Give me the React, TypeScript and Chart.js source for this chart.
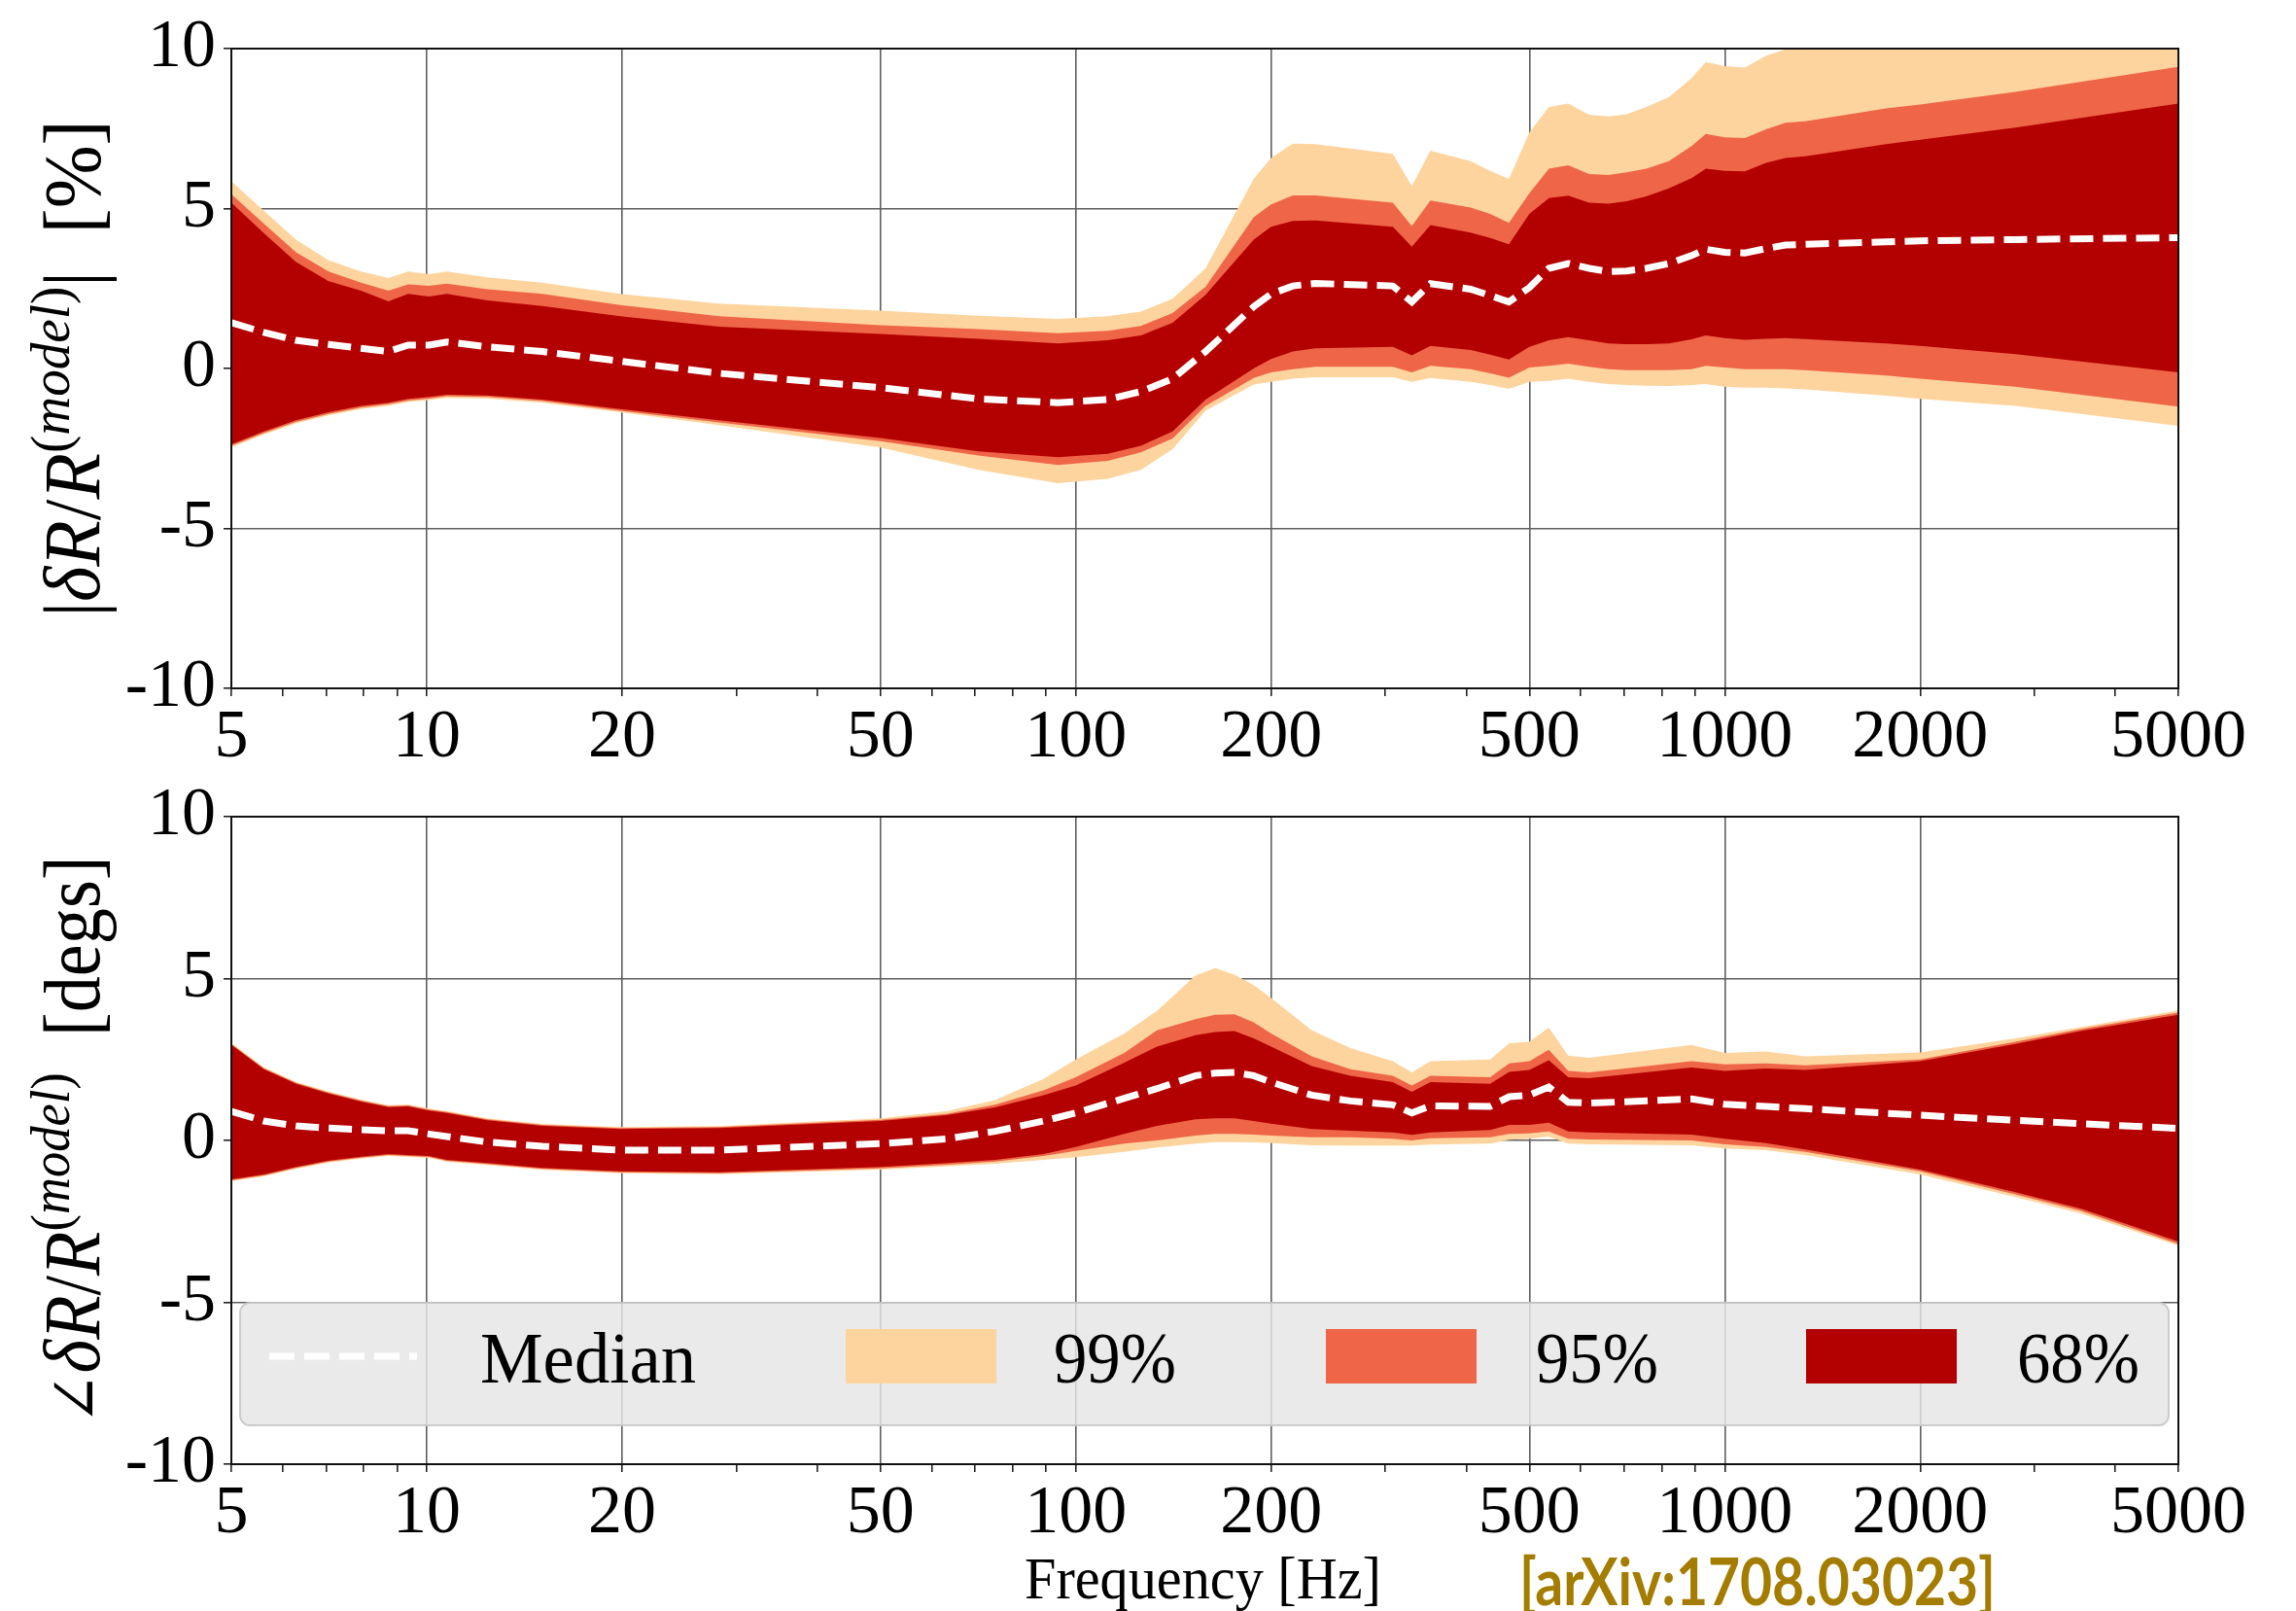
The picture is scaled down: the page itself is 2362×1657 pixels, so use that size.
import React, { useEffect, useRef } from 'react';
import { Chart, registerables } from 'chart.js';

Chart.register(...registerables);

// ---------------- data: magnitude panel ----------------
const magFreq = [5, 5.61, 6.29, 7.06, 7.92, 8.73, 9.36, 10.08, 10.74, 12.4, 15.07, 19.86, 28.2, 50, 70.8, 93.9, 112, 126, 141, 158.5, 188, 200, 216, 234, 308, 329.5, 352, 406, 435, 465, 500, 536, 574, 618, 662, 706, 757, 820, 889, 935, 1000, 1074, 1158, 1241, 1330, 1773, 2000, 2805, 5000];
const mag99Up = [5.85, 4.93, 4.03, 3.38, 3.03, 2.83, 3.03, 2.95, 3.03, 2.85, 2.68, 2.33, 2.03, 1.81, 1.65, 1.55, 1.63, 1.78, 2.18, 3.13, 5.93, 6.58, 7.03, 7.01, 6.71, 5.71, 6.81, 6.48, 6.18, 5.93, 7.38, 8.18, 8.28, 7.93, 7.88, 7.95, 8.18, 8.48, 9.08, 9.58, 9.45, 9.41, 9.78, 9.98, 10.3, 10.9, 11.1, 11.6, 12.5];
const mag95Up = [5.45, 4.53, 3.63, 3.03, 2.68, 2.43, 2.63, 2.58, 2.65, 2.48, 2.33, 1.98, 1.63, 1.35, 1.23, 1.10, 1.18, 1.33, 1.73, 2.55, 4.73, 5.13, 5.41, 5.41, 5.18, 4.45, 5.25, 5.03, 4.83, 4.55, 5.48, 6.25, 6.35, 6.08, 6.05, 6.13, 6.25, 6.48, 6.95, 7.33, 7.23, 7.20, 7.48, 7.68, 7.73, 8.13, 8.25, 8.65, 9.43];
const mag68Up = [5.18, 4.23, 3.33, 2.73, 2.43, 2.10, 2.33, 2.25, 2.33, 2.13, 1.95, 1.63, 1.31, 1.08, 0.93, 0.78, 0.88, 1.03, 1.43, 2.30, 4.03, 4.43, 4.61, 4.63, 4.43, 3.81, 4.48, 4.25, 4.08, 3.88, 4.83, 5.33, 5.40, 5.18, 5.15, 5.23, 5.38, 5.63, 5.95, 6.25, 6.18, 6.16, 6.43, 6.58, 6.63, 7.01, 7.15, 7.53, 8.28];
const magMedian = [1.43, 1.13, 0.88, 0.75, 0.63, 0.53, 0.73, 0.73, 0.83, 0.68, 0.53, 0.23, -0.15, -0.60, -0.95, -1.07, -0.97, -0.72, -0.32, 0.53, 1.93, 2.33, 2.58, 2.66, 2.58, 2.08, 2.65, 2.48, 2.28, 2.08, 2.53, 3.13, 3.28, 3.13, 3.03, 3.05, 3.13, 3.28, 3.53, 3.73, 3.63, 3.61, 3.75, 3.86, 3.88, 3.96, 3.99, 4.03, 4.09];
const mag68Lo = [-2.37, -1.97, -1.62, -1.37, -1.17, -1.07, -0.95, -0.89, -0.82, -0.84, -0.97, -1.27, -1.62, -2.17, -2.59, -2.77, -2.67, -2.42, -1.97, -0.97, 0.0, 0.30, 0.53, 0.63, 0.68, 0.41, 0.71, 0.58, 0.43, 0.28, 0.68, 0.88, 0.98, 0.88, 0.78, 0.76, 0.76, 0.78, 0.91, 1.03, 0.95, 0.90, 0.93, 0.95, 0.92, 0.78, 0.71, 0.45, -0.12];
const mag95Lo = [-2.42, -2.02, -1.67, -1.42, -1.22, -1.12, -1.00, -0.94, -0.87, -0.89, -1.02, -1.32, -1.69, -2.27, -2.72, -3.02, -2.89, -2.62, -2.19, -1.17, -0.30, -0.12, -0.02, 0.05, 0.05, -0.12, 0.08, -0.02, -0.15, -0.29, 0.03, 0.08, 0.15, 0.05, -0.02, -0.05, -0.05, -0.05, -0.02, 0.08, 0.03, -0.02, -0.02, -0.02, -0.05, -0.22, -0.32, -0.57, -1.19];
const mag99Lo = [-2.47, -2.07, -1.72, -1.47, -1.27, -1.17, -1.05, -0.99, -0.92, -0.94, -1.07, -1.37, -1.77, -2.47, -3.17, -3.59, -3.45, -3.17, -2.52, -1.32, -0.50, -0.42, -0.32, -0.27, -0.27, -0.42, -0.30, -0.42, -0.52, -0.64, -0.42, -0.39, -0.32, -0.42, -0.49, -0.52, -0.54, -0.55, -0.52, -0.49, -0.57, -0.60, -0.60, -0.62, -0.65, -0.85, -0.95, -1.17, -1.79];

// ---------------- data: phase panel ----------------
const phaseFreq = [5, 5.61, 6.29, 7.06, 7.92, 8.73, 9.36, 10.08, 10.74, 12.4, 15.07, 19.86, 28.2, 50, 63.2, 75.1, 89.2, 100, 118.8, 133.4, 153, 164, 175.6, 188, 200, 231, 265, 308, 329.5, 352, 435, 465.5, 500, 535.6, 574, 618, 889, 1000, 1158, 1330, 2000, 2805, 3530, 5000];
const phase99Up = [3.01, 2.26, 1.81, 1.51, 1.26, 1.09, 1.11, 0.98, 0.91, 0.68, 0.51, 0.41, 0.44, 0.68, 0.90, 1.25, 1.90, 2.50, 3.30, 4.00, 5.10, 5.32, 5.12, 4.80, 4.40, 3.40, 2.85, 2.45, 2.10, 2.45, 2.50, 3.00, 3.05, 3.48, 2.62, 2.55, 2.95, 2.70, 2.75, 2.60, 2.72, 3.15, 3.50, 4.02];
const phase95Up = [2.98, 2.23, 1.78, 1.48, 1.23, 1.06, 1.08, 0.95, 0.88, 0.65, 0.48, 0.38, 0.41, 0.64, 0.82, 1.10, 1.55, 1.95, 2.70, 3.40, 3.75, 3.88, 3.90, 3.65, 3.30, 2.60, 2.20, 2.00, 1.70, 2.00, 1.95, 2.38, 2.45, 2.80, 2.15, 2.10, 2.45, 2.35, 2.38, 2.32, 2.50, 3.05, 3.44, 3.95];
const phase68Up = [2.95, 2.20, 1.75, 1.45, 1.20, 1.03, 1.05, 0.92, 0.85, 0.62, 0.45, 0.35, 0.38, 0.60, 0.78, 1.02, 1.40, 1.70, 2.40, 2.90, 3.25, 3.35, 3.38, 3.15, 2.90, 2.30, 2.00, 1.80, 1.50, 1.80, 1.75, 2.12, 2.18, 2.48, 1.95, 1.92, 2.25, 2.15, 2.22, 2.18, 2.45, 2.98, 3.38, 3.88];
const phaseMedian = [0.90, 0.60, 0.45, 0.38, 0.33, 0.30, 0.30, 0.20, 0.12, -0.05, -0.18, -0.30, -0.30, -0.10, 0.05, 0.28, 0.60, 0.85, 1.30, 1.60, 2.00, 2.08, 2.10, 2.00, 1.80, 1.40, 1.22, 1.10, 0.85, 1.07, 1.05, 1.35, 1.40, 1.65, 1.18, 1.15, 1.28, 1.12, 1.05, 0.98, 0.78, 0.62, 0.52, 0.37];
const phase68Lo = [-1.20, -1.05, -0.82, -0.62, -0.50, -0.42, -0.45, -0.48, -0.60, -0.70, -0.85, -0.95, -0.98, -0.82, -0.70, -0.60, -0.42, -0.20, 0.20, 0.45, 0.65, 0.68, 0.68, 0.60, 0.52, 0.35, 0.30, 0.25, 0.17, 0.25, 0.32, 0.48, 0.48, 0.55, 0.28, 0.25, 0.18, 0.05, -0.08, -0.28, -0.90, -1.60, -2.10, -3.12];
const phase95Lo = [-1.23, -1.08, -0.85, -0.65, -0.53, -0.45, -0.48, -0.51, -0.63, -0.73, -0.88, -0.98, -1.01, -0.86, -0.75, -0.65, -0.48, -0.32, -0.10, 0.00, 0.15, 0.20, 0.20, 0.18, 0.15, 0.10, 0.10, 0.05, 0.00, 0.07, 0.10, 0.20, 0.22, 0.28, 0.05, 0.03, 0.00, -0.12, -0.20, -0.35, -0.95, -1.67, -2.17, -3.20];
const phase99Lo = [-1.26, -1.11, -0.88, -0.68, -0.56, -0.48, -0.51, -0.54, -0.66, -0.76, -0.91, -1.01, -1.04, -0.90, -0.80, -0.72, -0.60, -0.52, -0.35, -0.22, -0.10, -0.05, -0.05, -0.06, -0.08, -0.15, -0.16, -0.16, -0.16, -0.13, -0.10, 0.02, 0.05, 0.12, -0.10, -0.12, -0.15, -0.25, -0.30, -0.45, -1.05, -1.75, -2.25, -3.25];

// ---------------- axes / labels ----------------
const xMajorTicks = [5, 10, 20, 50, 100, 200, 500, 1000, 2000, 5000];
const xMinorTicks = [6, 7, 8, 9, 30, 40, 60, 70, 80, 90, 300, 400, 600, 700, 800, 900, 3000, 4000];
const yLabelTicks = [-10, -5, 0, 5, 10];
const legendLabels = ['Median', '99%', '95%', '68%'];
const xTitle = 'Frequency [Hz]';
const creditText = '[arXiv:1708.03023]';

const C99 = '#fdd49e';
const C95 = '#ef6548';
const C68 = '#b30000';
const GRID = '#5f5f5f';
const SERIF = '"Liberation Serif", "DejaVu Serif", serif';

type Seg = { t: string; italic?: boolean; size: number; rise?: number };

const magTitle: Seg[] = [
  { t: '|', size: 82 },
  { t: 'δR', italic: true, size: 82 },
  { t: '/', size: 82 },
  { t: 'R', italic: true, size: 82 },
  { t: '(', size: 58, rise: 31 },
  { t: 'model', italic: true, size: 58, rise: 31 },
  { t: ')', size: 58, rise: 31 },
  { t: '|', size: 82 },
  { t: '  [%]', size: 82 },
];
const phaseTitle: Seg[] = [
  { t: '∠', size: 70 },
  { t: 'δR', italic: true, size: 82 },
  { t: '/', size: 82 },
  { t: 'R', italic: true, size: 82 },
  { t: '(', size: 58, rise: 31 },
  { t: 'model', italic: true, size: 58, rise: 31 },
  { t: ')', size: 58, rise: 31 },
  { t: '  [degs]', size: 82 },
];

function pts(freq: number[], vals: number[]) {
  return freq.map((f, i) => ({ x: f, y: vals[i] }));
}

function buildDatasets(freq: number[], u99: number[], l99: number[], u95: number[], l95: number[], u68: number[], l68: number[], med: number[]) {
  const band = (up: number[], lo: number[], color: string, order: number) => [
    { data: pts(freq, up), fill: '+1', backgroundColor: color, borderColor: 'rgba(0,0,0,0)', borderWidth: 0, pointRadius: 0, tension: 0, order },
    { data: pts(freq, lo), fill: false, backgroundColor: color, borderColor: 'rgba(0,0,0,0)', borderWidth: 0, pointRadius: 0, tension: 0, order },
  ];
  return [
    ...band(u99, l99, C99, 3),
    ...band(u95, l95, C95, 2),
    ...band(u68, l68, C68, 1),
    { data: pts(freq, med), fill: false, borderColor: '#ffffff', borderWidth: 7, borderDash: [24, 10], borderCapStyle: 'butt', pointRadius: 0, tension: 0, order: 0 },
  ];
}

function drawRotated(ctx: CanvasRenderingContext2D, segs: Seg[], baseX: number, cy: number, targetLen: number) {
  let total = 0;
  const widths = segs.map((s) => {
    ctx.font = `${s.italic ? 'italic ' : ''}${s.size}px ${SERIF}`;
    const w = ctx.measureText(s.t).width;
    total += w;
    return w;
  });
  const k = targetLen / total;
  ctx.save();
  ctx.translate(baseX, cy);
  ctx.rotate(-Math.PI / 2);
  ctx.scale(k, 1);
  ctx.fillStyle = '#000';
  ctx.textBaseline = 'alphabetic';
  ctx.textAlign = 'left';
  let x = -total / 2;
  segs.forEach((s, i) => {
    ctx.font = `${s.italic ? 'italic ' : ''}${s.size}px ${SERIF}`;
    ctx.fillText(s.t, x, -(s.rise || 0));
    x += widths[i];
  });
  ctx.restore();
}

function makePlugin(title: Seg[], titleLen: number, withLegend: boolean) {
  return {
    id: 'decor',
    afterDraw(chart: any) {
      const ctx: CanvasRenderingContext2D = chart.ctx;
      const a = chart.chartArea;
      ctx.save();
      if (withLegend) {
        const L = a.left + 9, R = a.right - 10, T = a.top + 500, B = a.top + 626;
        ctx.beginPath();
        if ((ctx as any).roundRect) (ctx as any).roundRect(L, T, R - L, B - T, 10);
        else ctx.rect(L, T, R - L, B - T);
        ctx.fillStyle = 'rgba(229,229,229,0.82)';
        ctx.fill();
        ctx.strokeStyle = 'rgba(200,200,200,0.9)';
        ctx.lineWidth = 2;
        ctx.stroke();
        const yLine = a.top + 555;
        const yBase = a.top + 582;
        ctx.save();
        ctx.strokeStyle = '#fff';
        ctx.lineWidth = 7;
        ctx.setLineDash([26, 10]);
        ctx.beginPath();
        ctx.moveTo(277, yLine);
        ctx.lineTo(429, yLine);
        ctx.stroke();
        ctx.restore();
        ctx.fillStyle = '#000';
        ctx.font = `74px ${SERIF}`;
        ctx.textBaseline = 'alphabetic';
        ctx.textAlign = 'left';
        ctx.fillText(legendLabels[0], 494, yBase, 222);
        const items = [
          { c: C99, sx: 870, tx: 1084, label: legendLabels[1] },
          { c: C95, sx: 1364, tx: 1580, label: legendLabels[2] },
          { c: C68, sx: 1858, tx: 2075, label: legendLabels[3] },
        ];
        items.forEach((it) => {
          ctx.fillStyle = it.c;
          ctx.fillRect(it.sx, a.top + 527, 155, 56);
          ctx.fillStyle = '#000';
          ctx.font = `74px ${SERIF}`;
          ctx.fillText(it.label, it.tx, yBase, 126);
        });
      }
      ctx.strokeStyle = '#111';
      ctx.lineWidth = 2;
      ctx.strokeRect(a.left, a.top, a.right - a.left, a.bottom - a.top);
      drawRotated(ctx, title, 102, (a.top + a.bottom) / 2, titleLen);
      if (withLegend) {
        ctx.fillStyle = '#000';
        ctx.font = `62px ${SERIF}`;
        ctx.textAlign = 'left';
        ctx.textBaseline = 'alphabetic';
        ctx.fillText(xTitle, 1054, 854, 367);
        ctx.fillStyle = '#a47d00';
        ctx.font = `bold 66px Lato, "Open Sans", sans-serif`;
        ctx.fillText(creditText, 1563, 861, 490);
      }
      ctx.restore();
    },
  };
}

function makeConfig(datasets: any[], xAxisHeight: number, topPad: number, title: Seg[], titleLen: number, withLegend: boolean): any {
  const tickFont = { family: SERIF, size: 70 };
  return {
    type: 'line',
    data: { datasets },
    options: {
      animation: false,
      responsive: false,
      devicePixelRatio: 1,
      layout: { padding: { left: 0, right: 121, top: topPad, bottom: 0 } },
      plugins: { legend: { display: false }, tooltip: { enabled: false } },
      scales: {
        x: {
          type: 'logarithmic',
          min: 5,
          max: 5000,
          z: 1,
          afterBuildTicks: (s: any) => {
            s.ticks = [...xMajorTicks, ...xMinorTicks].sort((p, q) => p - q).map((v) => ({ value: v }));
          },
          afterFit: (s: any) => {
            s.height = xAxisHeight;
          },
          ticks: {
            autoSkip: false,
            maxRotation: 0,
            minRotation: 0,
            padding: 2,
            color: '#000',
            font: tickFont,
            callback: (v: number) => (xMajorTicks.includes(v) ? String(v) : ''),
          },
          grid: {
            color: (c: any) => (c.tick && xMajorTicks.includes(c.tick.value) ? GRID : 'rgba(0,0,0,0)'),
            tickColor: '#222',
            lineWidth: 1.6,
            tickLength: 8,
            drawTicks: true,
          },
          border: { display: false },
        },
        y: {
          min: -10,
          max: 10,
          z: 1,
          afterFit: (s: any) => {
            s.width = 238;
          },
          ticks: {
            stepSize: 2.5,
            padding: 8,
            color: '#000',
            font: tickFont,
            callback: (v: number) => (yLabelTicks.includes(v) ? String(v) : ''),
          },
          grid: { color: GRID, tickColor: '#222', lineWidth: 1.6, tickLength: 8 },
          border: { display: false },
        },
      },
    },
    plugins: [makePlugin(title, titleLen, withLegend)],
  };
}

export default function App() {
  const topRef = useRef<HTMLCanvasElement>(null);
  const botRef = useRef<HTMLCanvasElement>(null);
  useEffect(() => {
    const c1 = new Chart(
      topRef.current as HTMLCanvasElement,
      makeConfig(buildDatasets(magFreq, mag99Up, mag99Lo, mag95Up, mag95Lo, mag68Up, mag68Lo, magMedian), 82, 43, magTitle, 511, false)
    );
    const c2 = new Chart(
      botRef.current as HTMLCanvasElement,
      makeConfig(buildDatasets(phaseFreq, phase99Up, phase99Lo, phase95Up, phase95Lo, phase68Up, phase68Lo, phaseMedian), 151, 50, phaseTitle, 585, true)
    );
    return () => {
      c1.destroy();
      c2.destroy();
    };
  }, []);
  return (
    <div style={{ position: 'absolute', left: 0, top: 0, width: 2362, height: 1657, background: '#fff', overflow: 'hidden' }}>
      <canvas ref={topRef} width={2362} height={790} style={{ position: 'absolute', left: 0, top: 0, width: 2362, height: 790 }} />
      <canvas ref={botRef} width={2362} height={867} style={{ position: 'absolute', left: 0, top: 790, width: 2362, height: 867 }} />
    </div>
  );
}
